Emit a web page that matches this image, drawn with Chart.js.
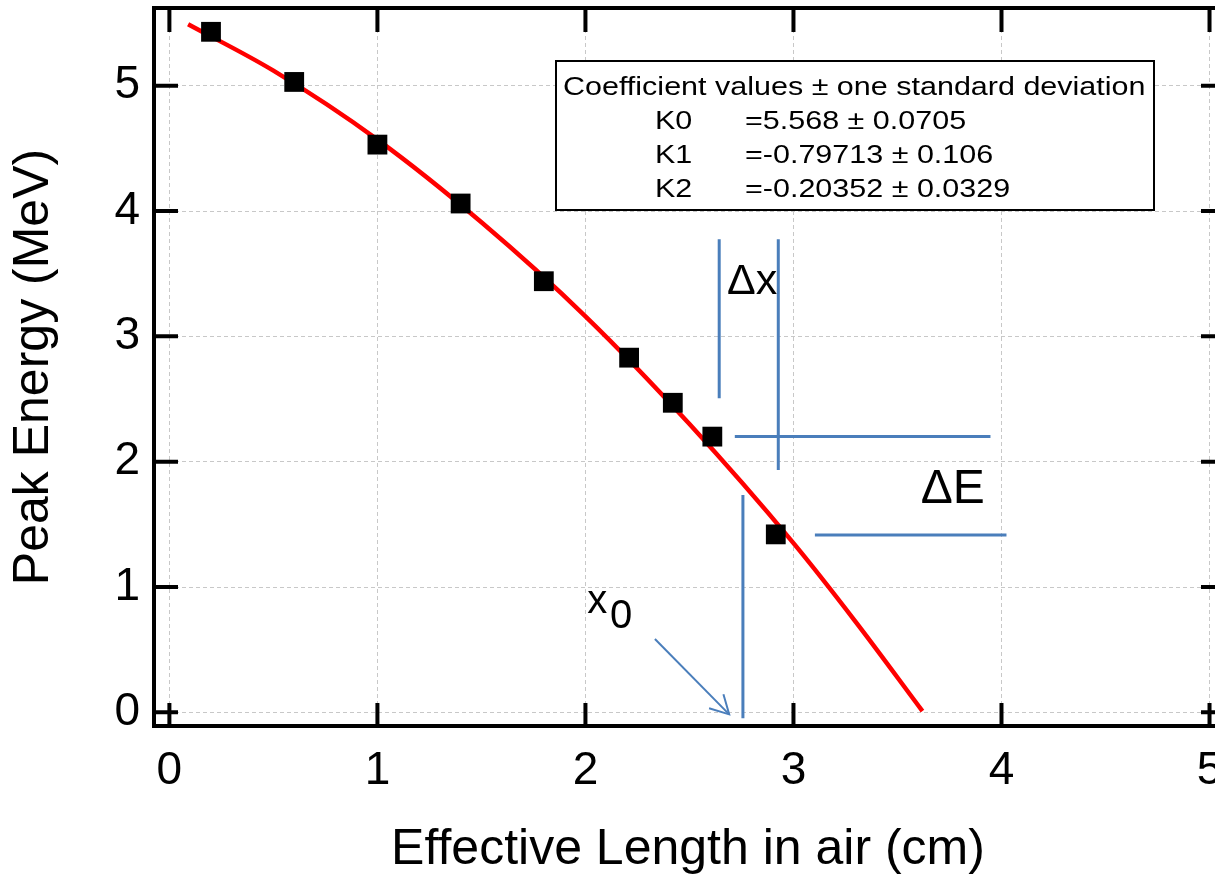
<!DOCTYPE html>
<html>
<head>
<meta charset="utf-8">
<script src="https://cdn.jsdelivr.net/npm/chart.js@4.4.0/dist/chart.umd.min.js"></script>
<style>
  html, body { margin: 0; background: #fff; overflow: hidden; }
  #wrap { width: 1215px; height: 880px; overflow: hidden; }
  canvas { display: block; }
</style>
</head>
<body>
<div id="wrap"><canvas id="myChart" width="1224" height="880"></canvas></div>
<script>
// measured points
const lengthCm = [0.2, 0.6, 1.0, 1.4, 1.8, 2.21, 2.42, 2.61, 2.915];
const peakMeV = [5.43, 5.03, 4.53, 4.06, 3.44, 2.83, 2.47, 2.20, 1.42];

// red fit curve
const fitX = [0.09, 0.5, 1.0, 1.5, 2.0, 2.5, 3.0, 3.3, 3.62];
const fitY = [5.49, 5.12, 4.57, 3.91, 3.16, 2.30, 1.35, 0.72, 0.01];

const xTicks = [0, 1, 2, 3, 4, 5];
const yTicks = [0, 1, 2, 3, 4, 5];

const coefTitle = 'Coefficient values \u00b1 one standard deviation';
const coefNames = ['K0', 'K1', 'K2'];
const coefValues = ['=5.568 \u00b1 0.0705', '=-0.79713 \u00b1 0.106', '=-0.20352 \u00b1 0.0329'];

// blue guide lines [x1, y1, x2, y2]
const guideLines = [
  [2.643, 3.775, 2.643, 2.506],
  [2.927, 3.775, 2.927, 1.934],
  [2.718, 2.200, 3.947, 2.200],
  [3.103, 1.415, 4.024, 1.415],
  [2.757, 1.734, 2.757, -0.048]
];
const arrowLine = [2.334, 0.585, 2.691, -0.016];

const blue = '#4a7ebb';
const fontFam = '"Liberation Sans", Arial, sans-serif';

const xy = (xs, ys) => xs.map((x, i) => ({ x: x, y: ys[i] }));

const guideSets = guideLines.map(g => ({
  data: [{ x: g[0], y: g[1] }, { x: g[2], y: g[3] }],
  showLine: true,
  borderColor: blue,
  borderWidth: 3,
  pointRadius: 0,
  order: 3
}));

const annotate = {
  id: 'annotate',
  beforeDatasetsDraw(chart) {
    const { ctx, scales: { x, y } } = chart;
    // coefficient box
    const L = Math.round(x.getPixelForValue(1.858));
    const R = Math.round(x.getPixelForValue(4.732));
    const T = Math.round(y.getPixelForValue(5.198));
    const B = Math.round(y.getPixelForValue(4.009));
    ctx.save();
    ctx.fillStyle = '#fff';
    ctx.fillRect(L, T, R - L, B - T);
    ctx.strokeStyle = '#000';
    ctx.lineWidth = 2;
    ctx.strokeRect(L, T, R - L, B - T);
    ctx.fillStyle = '#000';
    ctx.font = '25px ' + fontFam;
    ctx.textBaseline = 'alphabetic';
    const wide = (t, px, py) => {
      ctx.save();
      ctx.translate(px, py);
      ctx.scale(1.22, 1);
      ctx.fillText(t, 0, 0);
      ctx.restore();
    };
    wide(coefTitle, L + 7, T + 34);
    coefNames.forEach((n, i) => {
      wide(n, L + 99, T + 68 + 34 * i);
      wide(coefValues[i], L + 189, T + 68 + 34 * i);
    });
    ctx.restore();
  },
  afterDraw(chart) {
    const { ctx, chartArea: ca, scales: { x, y } } = chart;
    ctx.save();
    // frame
    ctx.strokeStyle = '#000';
    ctx.lineWidth = 4;
    ctx.strokeRect(ca.left, ca.top, ca.right - ca.left, ca.bottom - ca.top);
    // inward ticks
    ctx.beginPath();
    xTicks.forEach(v => {
      const px = x.getPixelForValue(v);
      ctx.moveTo(px, ca.bottom); ctx.lineTo(px, ca.bottom - 23);
      ctx.moveTo(px, ca.top); ctx.lineTo(px, ca.top + 24);
    });
    yTicks.forEach(v => {
      const py = y.getPixelForValue(v);
      ctx.moveTo(ca.left, py); ctx.lineTo(ca.left + 24, py);
      ctx.moveTo(ca.right, py); ctx.lineTo(ca.right - 21, py);
    });
    ctx.stroke();

    // arrow head
    const tx = x.getPixelForValue(arrowLine[2]), ty = y.getPixelForValue(arrowLine[3]);
    const sx = x.getPixelForValue(arrowLine[0]), sy = y.getPixelForValue(arrowLine[1]);
    const ang = Math.atan2(sy - ty, sx - tx);
    const a = 0.5, len = 21;
    ctx.strokeStyle = blue;
    ctx.lineWidth = 2;
    ctx.beginPath();
    ctx.moveTo(tx + len * Math.cos(ang - a), ty + len * Math.sin(ang - a));
    ctx.lineTo(tx, ty);
    ctx.lineTo(tx + len * Math.cos(ang + a), ty + len * Math.sin(ang + a));
    ctx.stroke();

    // labels on the plot
    ctx.fillStyle = '#000';
    ctx.textBaseline = 'alphabetic';
    ctx.textAlign = 'left';
    ctx.font = '43px ' + fontFam;
    ctx.fillText('\u0394x', x.getPixelForValue(2.681), y.getPixelForValue(3.336));
    ctx.font = '48px ' + fontFam;
    ctx.fillText('\u0394E', x.getPixelForValue(3.612), y.getPixelForValue(1.670));
    ctx.font = '40px ' + fontFam;
    ctx.fillText('x', x.getPixelForValue(2.009), y.getPixelForValue(0.794));
    ctx.fillText('0', x.getPixelForValue(2.118), y.getPixelForValue(0.673));
    ctx.restore();
  }
};

new Chart(document.getElementById('myChart'), {
  type: 'scatter',
  data: {
    datasets: [
      {
        data: xy(lengthCm, peakMeV),
        pointStyle: 'rect',
        pointRadius: 14,
        pointHoverRadius: 14,
        backgroundColor: '#000',
        borderWidth: 0,
        order: 0
      },
      {
        data: xy(fitX, fitY),
        showLine: true,
        borderColor: '#ff0000',
        borderWidth: 4.5,
        pointRadius: 0,
        cubicInterpolationMode: 'monotone',
        order: 1
      },
      {
        data: [{ x: arrowLine[0], y: arrowLine[1] }, { x: arrowLine[2], y: arrowLine[3] }],
        showLine: true,
        borderColor: blue,
        borderWidth: 2,
        pointRadius: 0,
        order: 2
      },
      ...guideSets
    ]
  },
  options: {
    responsive: false,
    animation: false,
    events: [],
    layout: { autoPadding: false, padding: { left: 0, top: 8, right: 2, bottom: 0 } },
    plugins: { legend: { display: false }, tooltip: { enabled: false } },
    scales: {
      x: {
        type: 'linear',
        min: -0.074,
        max: 5.06,
        afterBuildTicks: s => { s.ticks = xTicks.map(v => ({ value: v })); },
        afterFit: s => { s.height = 154; s.paddingLeft = 0; s.paddingRight = 0; },
        grid: { color: '#c8c8c8', lineWidth: 1, drawTicks: false },
        border: { display: false, dash: [4, 3] },
        ticks: { color: '#000', padding: 18, font: { family: fontFam, size: 46 } },
        title: {
          display: true,
          text: 'Effective Length in air (cm)',
          color: '#000',
          font: { family: fontFam, size: 50, lineHeight: 1.2 },
          padding: { top: 0, bottom: 0 }
        }
      },
      y: {
        type: 'linear',
        min: -0.109,
        max: 5.62,
        afterBuildTicks: s => { s.ticks = yTicks.map(v => ({ value: v })); },
        afterFit: s => { s.width = 154; s.paddingTop = 0; s.paddingBottom = 0; },
        grid: { color: '#c8c8c8', lineWidth: 1, drawTicks: false },
        border: { display: false, dash: [4, 3] },
        ticks: { color: '#000', padding: 14, font: { family: fontFam, size: 46 } },
        title: {
          display: true,
          text: 'Peak Energy (MeV)',
          color: '#000',
          font: { family: fontFam, size: 50, lineHeight: 1.2 },
          padding: { top: 4, bottom: 0 }
        }
      }
    }
  },
  plugins: [annotate]
});
</script>
</body>
</html>
